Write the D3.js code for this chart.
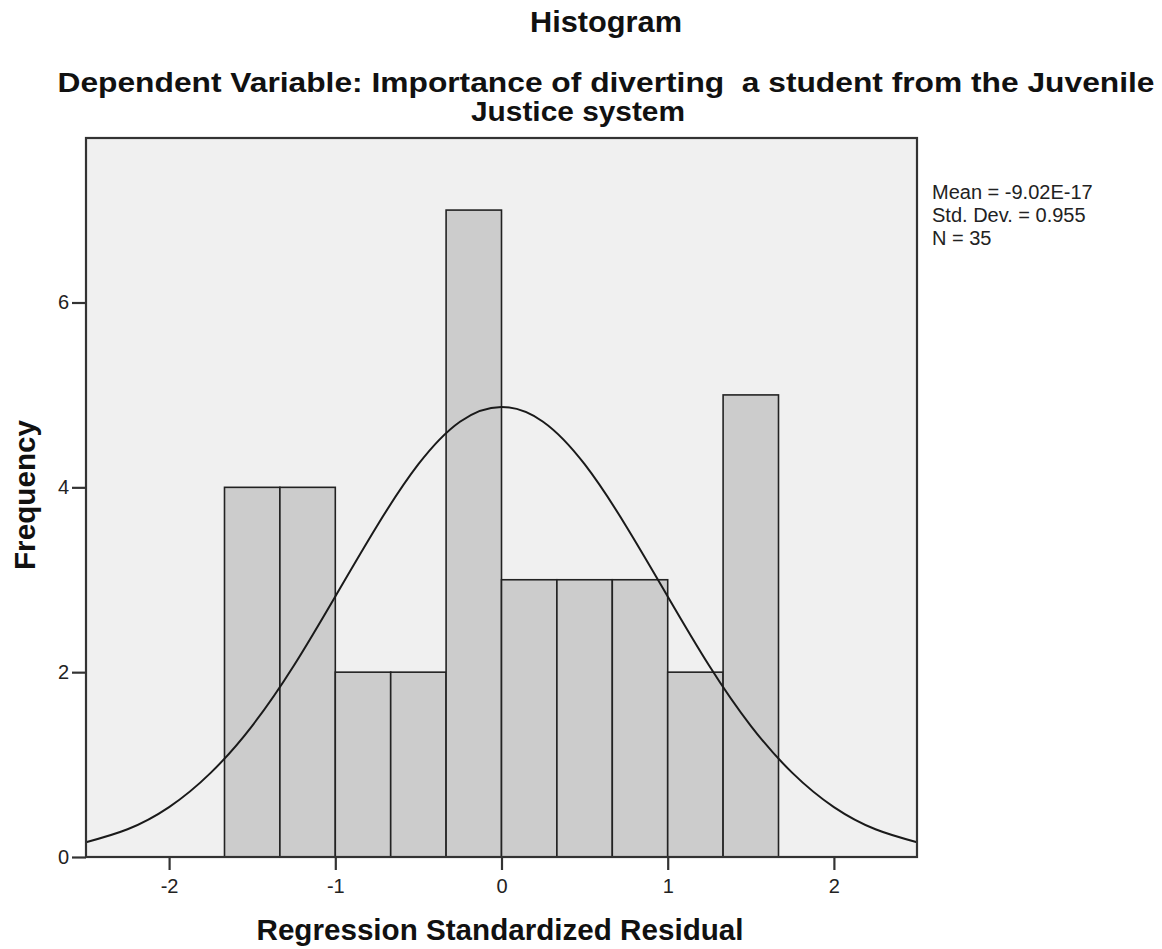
<!DOCTYPE html>
<html>
<head>
<meta charset="utf-8">
<script src="https://cdn.jsdelivr.net/npm/d3@7"></script>
<style>
  body { margin: 0; background: #fff; }
  svg { display: block; font-family: "Liberation Sans", Arial, sans-serif; }
</style>
</head>
<body>
<svg id="chart" width="1162" height="949"></svg>
<script>
// histogram bins (lower / upper edge) and counts
const binStart = [-5/3, -4/3, -1, -2/3, -1/3, 0, 1/3, 2/3, 1, 4/3];
const binEnd   = [-4/3, -1, -2/3, -1/3, 0, 1/3, 2/3, 1, 4/3, 5/3];
const counts   = [4, 4, 2, 2, 7, 3, 3, 3, 2, 5];

// normal curve, points
const curveX = [-2.5, -2.25, -2, -1.75, -1.5, -1.25, -1, -0.75, -0.5, -0.25, 0, 0.25, 0.5, 0.75, 1, 1.25, 1.5, 1.75, 2, 2.25, 2.5];
const curveY = [0.16, 0.30, 0.54, 0.91, 1.42, 2.07, 2.82, 3.58, 4.25, 4.71, 4.87, 4.71, 4.25, 3.58, 2.82, 2.07, 1.42, 0.91, 0.54, 0.30, 0.16];

const xTicks = [-2, -1, 0, 1, 2];
const yTicks = [0, 2, 4, 6];
const statsLines = ["Mean = -9.02E-17", "Std. Dev. = 0.955", "N = 35"];

const svg = d3.select("#chart");
const plotL = 86, plotR = 917, plotT = 138, plotB = 857;

const x = d3.scaleLinear().domain([-2.5, 2.5]).range([plotL, plotR]);
const y = d3.scaleLinear().domain([0, 7.78]).range([plotB, plotT]);

// plot background
svg.append("rect")
  .attr("x", plotL).attr("y", plotT)
  .attr("width", plotR - plotL).attr("height", plotB - plotT)
  .attr("fill", "#f0f0f0");

// bars
svg.append("g").selectAll("rect")
  .data(counts)
  .join("rect")
  .attr("x", (d, i) => x(binStart[i]))
  .attr("y", d => y(d))
  .attr("width", (d, i) => x(binEnd[i]) - x(binStart[i]))
  .attr("height", d => y(0) - y(d))
  .attr("fill", "#cccccc")
  .attr("stroke", "#222")
  .attr("stroke-width", 1.6);

// normal curve
const line = d3.line()
  .x((d, i) => x(curveX[i]))
  .y(d => y(d))
  .curve(d3.curveNatural);

svg.append("path")
  .datum(curveY)
  .attr("d", line)
  .attr("fill", "none")
  .attr("stroke", "#1a1a1a")
  .attr("stroke-width", 2);

// frame
svg.append("rect")
  .attr("x", plotL).attr("y", plotT)
  .attr("width", plotR - plotL).attr("height", plotB - plotT)
  .attr("fill", "none")
  .attr("stroke", "#333")
  .attr("stroke-width", 2.2);

// axes
const tickFmt = d => String(d);
const xAxis = svg.append("g")
  .attr("transform", "translate(0," + plotB + ")")
  .call(d3.axisBottom(x).tickValues(xTicks).tickSize(13).tickSizeOuter(0).tickFormat(tickFmt));
const yAxis = svg.append("g")
  .attr("transform", "translate(" + plotL + ",0)")
  .call(d3.axisLeft(y).tickValues(yTicks).tickSize(14).tickSizeOuter(0).tickFormat(tickFmt));

[xAxis, yAxis].forEach(a => {
  a.select(".domain").remove();
  a.selectAll(".tick line").attr("stroke", "#333").attr("stroke-width", 2.2);
  a.selectAll(".tick text")
    .attr("fill", "#222")
    .attr("font-size", 20)
    .attr("font-family", "Liberation Sans, Arial, sans-serif");
});
xAxis.selectAll(".tick text").attr("dy", null).attr("y", 36);
yAxis.selectAll(".tick text").attr("x", -17);

// titles
function title(txt, cx, cy, len, size) {
  svg.append("text")
    .attr("x", cx).attr("y", cy)
    .attr("text-anchor", "middle")
    .attr("font-size", size).attr("font-weight", "bold")
    .attr("fill", "#111")
    .attr("textLength", len)
    .attr("lengthAdjust", "spacingAndGlyphs")
    .attr("xml:space", "preserve")
    .text(txt);
}
title("Histogram", 606, 32, 152, 29);
title("Dependent Variable: Importance of diverting  a student from the Juvenile", 606, 92, 1097, 27);
title("Justice system", 578, 121, 214, 27);
title("Regression Standardized Residual", 500, 940, 487, 29);

svg.append("text")
  .attr("transform", "translate(35,495) rotate(-90)")
  .attr("text-anchor", "middle")
  .attr("font-size", 29).attr("font-weight", "bold")
  .attr("fill", "#111")
  .attr("textLength", 150)
  .attr("lengthAdjust", "spacingAndGlyphs")
  .text("Frequency");

// stats box
svg.append("g").selectAll("text")
  .data(statsLines)
  .join("text")
  .attr("x", 932)
  .attr("y", (d, i) => 199 + i * 23)
  .attr("font-size", 20)
  .attr("fill", "#222")
  .text(d => d);
</script>
</body>
</html>
